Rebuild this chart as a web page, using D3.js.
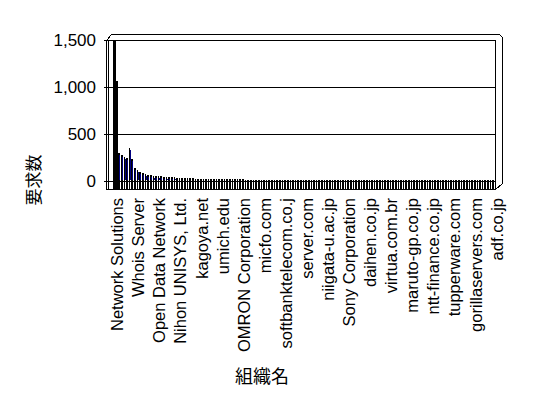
<!DOCTYPE html>
<html>
<head>
<meta charset="utf-8">
<script src="https://cdn.jsdelivr.net/npm/d3@7"></script>
<style>
  body { margin: 0; background: #fff; }
  svg text { font-family: "Liberation Sans", Arial, sans-serif; }
</style>
</head>
<body>
<svg id="chart" width="548" height="398"></svg>
<script>
// requests per organisation (sorted), only every 8th category is labelled
const requestCounts = [
  1490, 1060, 300, 280, 255, 250, 350, 230, 140, 115,
  100, 85, 75, 68, 60, 58, 56, 54, 50, 47,
  45, 44, 40, 38, 37, 36, 35, 34, 33, 28,
  27, 26, 26, 25, 25, 24, 24, 23, 23, 22,
  22, 21, 21, 21, 20, 20, 20, 19, 19, 19,
  15, 15, 15, 14, 14, 14, 14, 14, 13, 13,
  13, 13, 13, 13, 12, 12, 12, 12, 12, 12,
  12, 12, 11, 11, 11, 11, 11, 11, 11, 11,
  11, 10, 10, 10, 10, 10, 10, 10, 10, 10,
  10, 10, 10, 10, 9, 9, 9, 9, 9, 9,
  9, 9, 9, 9, 9, 9, 9, 9, 9, 9,
  9, 9, 8, 8, 8, 8, 8, 8, 8, 8,
  8, 8, 8, 8, 8, 8, 8, 8, 8, 8,
  8, 8, 8, 8, 8, 8, 7, 7, 7, 7,
  7, 7, 7, 7, 7
];
const labelEvery = 8;
const orgLabels = [
  "Network Solutions", "Whois Server", "Open Data Network", "Nihon UNISYS, Ltd.",
  "kagoya.net", "umich.edu", "OMRON Corporation", "micfo.com",
  "softbanktelecom.co.j", "server.com", "niigata-u.ac.jp", "Sony Corporation",
  "daihen.co.jp", "virtua.com.br", "maruto-gp.co.jp", "ntt-finance.co.jp",
  "tupperware.com", "gorillaservers.com", "adf.co.jp"
];
const yTicks = [0, 500, 1000, 1500];
const yTitle = "要求数";
const xTitle = "組織名";

const svg = d3.select("#chart");
const plotLeft = 113, plotRight = 495, floorBack = 181, floorFront = 189, plotTop = 40;
const depthX = 7, depthY = 6;

const x = d3.scaleBand()
  .domain(d3.range(requestCounts.length))
  .range([plotLeft, plotRight]);
const y = d3.scaleLinear().domain([0, 1500]).range([floorBack, plotTop]);

// frame (3D walls)
const frame = svg.append("g").attr("fill", "none").attr("stroke", "#000")
  .attr("shape-rendering", "crispEdges");
frame.append("path")
  .attr("d", `M${plotLeft - depthX + 0.5},${floorFront + 0.5} V${plotTop + 0.5} L${plotLeft - 1.5},${plotTop - depthY + 0.5} H${plotRight + depthX - 2.5} L${plotRight + depthX + 0.5},${plotTop - depthY + 3.5} V${floorBack + 2.5} L${plotRight + 0.5},${floorFront + 0.5} Z`);
frame.append("line")
  .attr("x1", plotLeft - depthX + 2.5).attr("x2", plotLeft - depthX + 2.5)
  .attr("y1", plotTop + 0.5).attr("y2", floorFront);
frame.append("line")
  .attr("x1", plotRight + 0.5).attr("x2", plotRight + 0.5)
  .attr("y1", plotTop + 0.5).attr("y2", floorFront);

// gridlines
svg.append("g").selectAll("line").data(yTicks).join("line")
  .attr("x1", plotLeft - depthX - 2).attr("x2", plotRight + 1)
  .attr("y1", d => Math.round(y(d)) + 0.5).attr("y2", d => Math.round(y(d)) + 0.5)
  .attr("stroke", "#000").attr("shape-rendering", "crispEdges");

// bars: black edge + navy face
const bars = svg.append("g").attr("shape-rendering", "crispEdges");
bars.selectAll("rect.edge").data(requestCounts).join("rect")
  .attr("class", "edge")
  .attr("x", (d, i) => Math.round(x(i)))
  .attr("width", (d, i) => Math.max(1, Math.round(x(i) + x.bandwidth()) - Math.round(x(i)) - 1) + (d > 1000 ? 1 : 0))
  .attr("y", d => Math.round(y(d)))
  .attr("height", d => floorFront - Math.round(y(d)))
  .attr("fill", "#000");
bars.selectAll("rect.face").data(requestCounts).join("rect")
  .attr("class", "face")
  .attr("x", (d, i) => Math.round(x(i)) + 1)
  .attr("width", 1)
  .attr("y", d => Math.round(y(d)) + 2)
  .attr("height", d => d > 1000 ? 0 : Math.max(0, floorBack - 1 - Math.round(y(d)) - 2))
  .attr("fill", "#000080");

// y tick labels
svg.append("g").selectAll("text").data(yTicks).join("text")
  .attr("x", 96)
  .attr("y", d => y(d))
  .attr("dy", "0.36em")
  .attr("text-anchor", "end")
  .attr("font-size", 17)
  .text(d3.format(","));

// x tick labels
svg.append("g").selectAll("text").data(orgLabels).join("text")
  .attr("transform", (d, i) => `translate(${x(i * labelEvery) + x.bandwidth() / 2 + 3},198) rotate(-90)`)
  .attr("dy", "0.36em")
  .attr("text-anchor", "end")
  .attr("font-size", 16.5)
  .text(d => d);

// axis titles
svg.append("text")
  .attr("transform", "translate(34,180) rotate(-90)")
  .attr("dy", "0.36em")
  .attr("text-anchor", "middle")
  .attr("font-size", 17)
  .style("font-family", "'Noto Sans CJK JP', sans-serif")
  .text(yTitle);
svg.append("text")
  .attr("x", 262).attr("y", 377)
  .attr("dy", "0.36em")
  .attr("text-anchor", "middle")
  .attr("font-size", 18)
  .style("font-family", "'Noto Sans CJK JP', sans-serif")
  .text(xTitle);
</script>
</body>
</html>
